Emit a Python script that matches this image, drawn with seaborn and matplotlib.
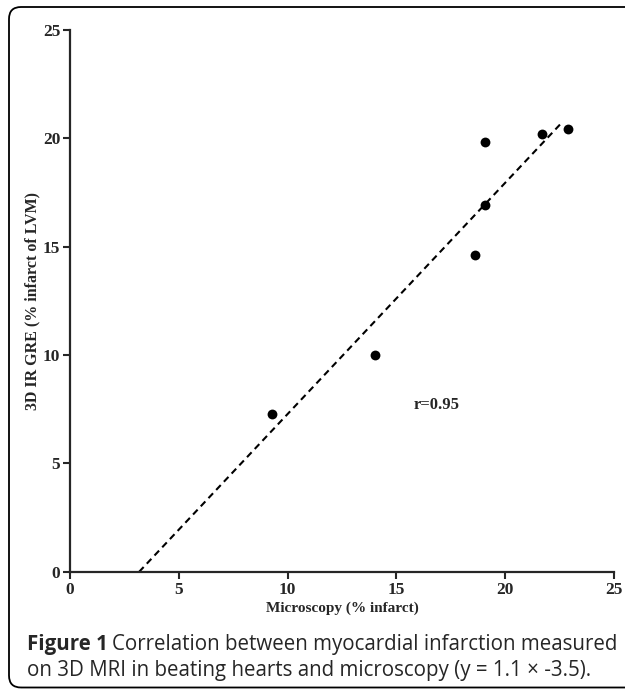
import numpy as np
import pandas as pd
import seaborn as sns
import matplotlib.pyplot as plt
from matplotlib.patches import FancyBboxPatch

# data
microscopy = [9.3, 14.0, 18.6, 19.1, 19.1, 21.7, 22.9]
mri = [7.3, 10.0, 14.6, 16.9, 19.8, 20.2, 20.4]
ticks = [0, 5, 10, 15, 20, 25]
fit_end_x = 22.6

df = pd.DataFrame({"x": microscopy, "y": mri})

sns.set_style("ticks")
plt.rcParams['font.family'] = ['Liberation Serif', 'DejaVu Serif']

fig = plt.figure(figsize=(6.25, 6.89), dpi=100)
ax = fig.add_axes([0.112, 0.170, 0.870, 0.787])

# regression line, from where it crosses y=0 up past the points
slope, icpt = np.polyfit(microscopy, mri, 1)
line_x = np.array([-icpt / slope, fit_end_x])
fit = pd.DataFrame({"x": line_x, "y": slope * line_x + icpt})
sns.lineplot(data=fit, x="x", y="y", ax=ax, color="black", lw=1.5,
             linestyle=(0, (3.2, 2.2)))

sns.scatterplot(data=df, x="x", y="y", ax=ax, color="black", s=50,
                edgecolor="black", linewidth=0, zorder=3)

ax.set_xlim(0, 25)
ax.set_ylim(0, 25)
ax.set_xticks(ticks)
ax.set_yticks(ticks)
ax.tick_params(direction="out", length=5, width=1.5, labelsize=12.5, pad=2)
for lab in ax.get_xticklabels() + ax.get_yticklabels():
    lab.set_fontweight("bold")
for s in ["left", "bottom"]:
    ax.spines[s].set_linewidth(1.6)
sns.despine(ax=ax)

ax.set_xlabel("Microscopy (% infarct)", fontsize=11, fontweight="bold", labelpad=3)
ax.set_ylabel("3D IR GRE (% infarct of LVM)", fontsize=11.5, fontweight="bold", labelpad=2)

ax.text(15.8, 7.7, "r=0.95", fontsize=12, fontweight="bold", va="center", ha="left")

# rounded frame (only left/top/bottom-left visible), sized in inches
frame = FancyBboxPatch((0.09, 0.015), 7.0, 6.89 - 0.07 - 0.015,
                       boxstyle="round,pad=0,rounding_size=0.12",
                       transform=fig.dpi_scale_trans, fill=False, lw=1.3,
                       edgecolor="black", clip_on=False)
fig.patches.append(frame)

# caption: bold "Figure 1" then normal text
cap = ['Open Sans', 'DejaVu Sans']
fs = 14.8
W, H = 625, 689
t1 = fig.text(27 / W, 1 - 650 / H, "Figure 1", fontsize=fs, fontweight="bold",
              family=cap, va="baseline")
fig.canvas.draw()
bb = t1.get_window_extent()
fig.text((bb.x1 + 4.5) / W, 1 - 650 / H,
         "Correlation between myocardial infarction measured",
         fontsize=fs, family=cap, va="baseline")
fig.text(27 / W, 1 - 676 / H,
         "on 3D MRI in beating hearts and microscopy (y = 1.1 \u00d7 -3.5).",
         fontsize=fs, family=cap, va="baseline")

fig.savefig("out.png", dpi=100)
